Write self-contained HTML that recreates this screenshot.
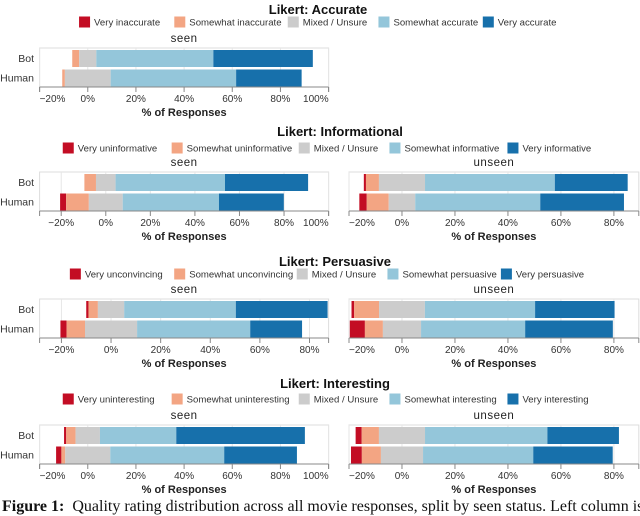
<!DOCTYPE html>
<html><head><meta charset="utf-8"><style>
body{margin:0;background:#fff;width:640px;height:513px;overflow:hidden;position:relative;font-family:"Liberation Sans",sans-serif}
svg{position:absolute;left:0;top:0}
.cap{position:absolute;left:2px;top:498px;font-family:"Liberation Serif",serif;font-size:16px;white-space:nowrap;color:#111}
</style></head><body>
<svg id="chart" width="640" height="513"></svg>
<div class="cap"><b>Figure 1:</b>&nbsp; Quality rating distribution across all movie responses, split by seen status. Left column is</div>
<script>
const categories = ['Bot','Human'];
const colors = ['#c30d24','#f3a583','#cccccc','#94c6da','#1770ab'];
const accLabels = ['Very inaccurate','Somewhat inaccurate','Mixed / Unsure','Somewhat accurate','Very accurate'];
const infLabels = ['Very uninformative','Somewhat uninformative','Mixed / Unsure','Somewhat informative','Very informative'];
const perLabels = ['Very unconvincing','Somewhat unconvincing','Mixed / Unsure','Somewhat persuasive','Very persuasive'];
const intLabels = ['Very uninteresting','Somewhat uninteresting','Mixed / Unsure','Somewhat interesting','Very interesting'];
const accSeenBot = [0, 2.9, 7.1, 48.6, 41.3];
const accSeenHuman = [0, 1.1, 19.0, 52.1, 27.2];
const infSeenBot = [0, 5.2, 8.8, 49.1, 37.3];
const infSeenHuman = [2.7, 10.2, 15.2, 43.2, 29.1];
const infUnseenBot = [0.8, 4.9, 17.4, 49.0, 27.5];
const infUnseenHuman = [2.8, 8.3, 10.0, 47.2, 31.6];
const perSeenBot = [0.9, 3.8, 10.6, 45.0, 37.0];
const perSeenHuman = [2.5, 7.4, 21.0, 45.6, 20.9];
const perUnseenBot = [1.0, 9.4, 17.3, 41.6, 30.0];
const perUnseenHuman = [5.7, 6.8, 14.4, 39.3, 33.1];
const intSeenBot = [0.9, 3.9, 10.1, 31.7, 53.4];
const intSeenHuman = [2.2, 1.6, 18.7, 47.3, 30.2];
const intUnseenBot = [2.3, 6.5, 17.4, 46.2, 27.0];
const intUnseenHuman = [4.1, 7.2, 15.9, 41.6, 30.0];
const ticksSeen100 = [-20,0,20,40,60,80,100];
const ticksTo80 = [-20,0,20,40,60,80];

const NS='http://www.w3.org/2000/svg';
const svg=document.getElementById('chart');
function mk(tag,attrs,parent,text){const e=document.createElementNS(NS,tag);for(const k in attrs)e.setAttribute(k,attrs[k]);if(text!==undefined)e.textContent=text;(parent||svg).appendChild(e);return e;}

function legend(cx,y,labels,key){
  const g=mk('g',{});
  
  
  const widths=labels.map(l=>l.length*4.55+15);
  const gap=12;const total=widths.reduce((a,b)=>a+b,0)+gap*(labels.length-1);
  let x=cx-total/2;
  labels.forEach((l,i)=>{
    const it=mk('g',{},g);
    
    
    mk('rect',{x:x,y:y-5.5,width:11,height:11,fill:colors[i]},it);
    mk('text',{x:x+15,y:y+3.5,'font-size':9.6,fill:'#333'},it,l);
    x+=widths[i]+gap;
  });
}

function panel(x0,x1,top,dmin,dmax,ticks,rows,sub,showRows,key){
  const g=mk('g',{});
  
  
  const sx=v=>x0+(v-dmin)/(dmax-dmin)*(x1-x0);
  const h=39;
  mk('rect',{x:x0,y:top,width:x1-x0,height:h,fill:'none',stroke:'#ddd','stroke-width':1},g);
  ticks.forEach(t=>{mk('line',{x1:sx(t),x2:sx(t),y1:top,y2:top+h,stroke:'#e6e6e6'},g);});
  const sub_t=mk('text',{x:(x0+x1)/2,y:top-6,'text-anchor':'middle','font-size':11.5,fill:'#222','letter-spacing':'0.5'},g,sub);
  
  
  rows.forEach((vals,ri)=>{
    const y=top+2+ri*19.5;
    let start=-(vals[0]+vals[1]+vals[2]/2);
    vals.forEach((v,i)=>{
      const r=mk('rect',{x:sx(start),y:y,width:Math.max(0,sx(start+v)-sx(start)),height:17,fill:colors[i]},g);
      
      
      start+=v;
    });
    if(showRows){
      const lt=mk('text',{x:34,y:y+12,'text-anchor':'end','font-size':10.5,fill:'#333'},g,categories[ri]);
      
      
    }
  });
  const ay=top+h;
  mk('line',{x1:x0,x2:x1,y1:ay,y2:ay,stroke:'#888'},g);
  mk('line',{x1:x0,x2:x0,y1:ay,y2:ay+5,stroke:'#888'},g);
  mk('line',{x1:x1,x2:x1,y1:ay,y2:ay+5,stroke:'#888'},g);
  ticks.forEach((t,i)=>{
    const tx=sx(t);
    mk('line',{x1:tx,x2:tx,y1:ay,y2:ay+5,stroke:'#888'},g);
    let anchor='middle';
    if(Math.abs(tx-x0)<1)anchor='start';
    if(Math.abs(tx-x1)<1)anchor='end';
    const tl=mk('text',{x:tx,y:ay+15,'text-anchor':anchor,'font-size':10,fill:'#333'},g,(t<0?'\u2212'+(-t):t)+'%');
    
    
  });
  const at=mk('text',{x:(x0+x1)/2,y:ay+29,'text-anchor':'middle','font-size':11,'font-weight':'bold',fill:'#222'},g,'% of Responses');
  
  
}
function title(y,t,cx){
  const e=mk('text',{x:cx,y:y+5,'text-anchor':'middle','font-size':13,'font-weight':'bold',fill:'#111'},svg,t);
  
  
}
const L0=39.6,L1=328.6,R0=349,R1=638.8;
title(9,'Likert: Accurate',318);
legend(318,22,accLabels,'accurate');
panel(L0,L1,48,-20,100,ticksSeen100,[accSeenBot,accSeenHuman],'seen',true,'accurate-seen-panel');
title(131,'Likert: Informational',340);
legend(329,148,infLabels,'informational');
panel(L0,L1,172,-29.7,100,ticksSeen100,[infSeenBot,infSeenHuman],'seen',true,'informational-seen-panel');
panel(R0,R1,172,-20,89.4,ticksTo80,[infUnseenBot,infUnseenHuman],'unseen',false,'informational-unseen-panel');
title(261,'Likert: Persuasive',335);
legend(327,274,perLabels,'persuasive');
panel(L0,L1,299,-28.8,87.7,ticksTo80,[perSeenBot,perSeenHuman],'seen',true,'persuasive-seen-panel');
panel(R0,R1,299,-20,89.4,ticksTo80,[perUnseenBot,perUnseenHuman],'unseen',false,'persuasive-unseen-panel');
title(383,'Likert: Interesting',335);
legend(329,399,intLabels,'interesting');
panel(L0,L1,425,-20,100,ticksSeen100,[intSeenBot,intSeenHuman],'seen',true,'interesting-seen-panel');
panel(R0,R1,425,-20,89.4,ticksTo80,[intUnseenBot,intUnseenHuman],'unseen',false,'interesting-unseen-panel');
</script>
</body></html>
